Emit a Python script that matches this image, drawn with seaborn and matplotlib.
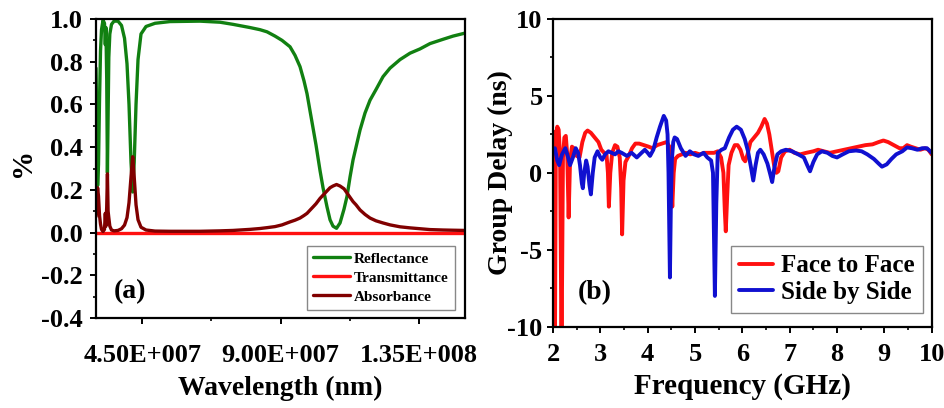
import matplotlib
matplotlib.use("Agg")
import matplotlib.pyplot as plt
import numpy as np
import pandas as pd
import seaborn as sns
from matplotlib.ticker import AutoMinorLocator, FixedLocator

sns.set_theme(style="ticks")
plt.rcParams["font.family"] = ["Liberation Serif", "DejaVu Serif"]
plt.rcParams["font.weight"] = "bold"
plt.rcParams["axes.unicode_minus"] = False
for key in ("axes.edgecolor", "xtick.color", "ytick.color", "text.color", "axes.labelcolor"):
    plt.rcParams[key] = "black"

# ---------------- panel (a): spectral response ----------------
wavelength_nm = [
    3.000e7, 3.026e7, 3.052e7, 3.081e7, 3.114e7, 3.146e7, 3.179e7, 3.228e7,
    3.276e7, 3.302e7, 3.322e7, 3.348e7, 3.371e7, 3.393e7, 3.416e7, 3.449e7,
    3.504e7, 3.585e7, 3.715e7, 3.829e7, 3.927e7, 4.008e7, 4.073e7, 4.138e7,
    4.193e7, 4.242e7, 4.301e7, 4.366e7, 4.463e7, 4.626e7, 4.919e7, 5.406e7,
    6.382e7, 7.032e7, 7.455e7, 8.008e7, 8.333e7, 8.561e7, 8.821e7, 9.049e7,
    9.309e7, 9.471e7, 9.634e7, 9.764e7, 9.862e7, 9.959e7, 1.0057e8, 1.0154e8,
    1.0285e8, 1.0382e8, 1.0512e8, 1.0610e8, 1.0707e8, 1.0821e8, 1.0935e8,
    1.1065e8, 1.1163e8, 1.1260e8, 1.1358e8, 1.1455e8, 1.1585e8, 1.1748e8,
    1.1911e8, 1.2106e8, 1.2333e8, 1.2561e8, 1.2886e8, 1.3211e8, 1.3536e8,
    1.3862e8, 1.4284e8, 1.4610e8, 1.5000e8,
]
reflectance = [
    0.77, 0.50, 0.22, 0.32, 0.62, 0.85, 0.95, 0.995,
    0.98, 0.88, 0.96, 0.72, 0.28, 0.55, 0.82, 0.93,
    0.975, 0.99, 0.99, 0.97, 0.91, 0.79, 0.60, 0.33,
    0.19, 0.33, 0.60, 0.81, 0.93, 0.965, 0.98, 0.988,
    0.99, 0.985, 0.975, 0.96, 0.95, 0.94, 0.92, 0.90,
    0.87, 0.83, 0.777, 0.71, 0.65, 0.57, 0.49, 0.41,
    0.29, 0.21, 0.12, 0.06, 0.03, 0.02, 0.045,
    0.11, 0.17, 0.26, 0.34, 0.40, 0.48, 0.56,
    0.62, 0.67, 0.73, 0.77, 0.81, 0.84, 0.86,
    0.885, 0.905, 0.92, 0.934,
]
transmittance = [0.0] * len(wavelength_nm)
absorbance = [
    0.075, 0.15, 0.21, 0.17, 0.08, 0.04, 0.015, 0.005,
    0.015, 0.09, 0.03, 0.12, 0.275, 0.10, 0.07, 0.03,
    0.012, 0.008, 0.01, 0.018, 0.035, 0.07, 0.14, 0.26,
    0.355, 0.26, 0.13, 0.06, 0.025, 0.012, 0.007, 0.006,
    0.006, 0.008, 0.01, 0.015, 0.019, 0.023, 0.028, 0.036,
    0.05, 0.058, 0.068, 0.08, 0.09, 0.105, 0.12, 0.135,
    0.16, 0.175, 0.195, 0.21, 0.218, 0.225, 0.218,
    0.205, 0.185, 0.165, 0.145, 0.13, 0.106, 0.085,
    0.068, 0.055, 0.045, 0.036, 0.027, 0.022, 0.018,
    0.014, 0.012, 0.011, 0.01,
]
series_a = ["Reflectance", "Transmittance", "Absorbance"]
colors_a = {"Reflectance": "#118011", "Transmittance": "#ff1010", "Absorbance": "#800000"}
wl_ticks = [4.5e7, 9.0e7, 1.35e8]
wl_tick_labels = ["4.50E+007", "9.00E+007", "1.35E+008"]
pct_ticks = [-0.4, -0.2, 0.0, 0.2, 0.4, 0.6, 0.8, 1.0]
pct_tick_labels = ["-0.4", "-0.2", "0.0", "0.2", "0.4", "0.6", "0.8", "1.0"]

# ---------------- panel (b): group delay ----------------
ftf_freq = [
    2.00, 2.02, 2.04, 2.06, 2.09, 2.12, 2.15, 2.18, 2.21, 2.24, 2.27, 2.30,
    2.33, 2.36, 2.40, 2.44, 2.50, 2.56, 2.62, 2.68, 2.73, 2.80, 2.88, 2.96,
    3.02, 3.08, 3.13, 3.16, 3.18, 3.21, 3.25, 3.31, 3.36, 3.41, 3.44, 3.46,
    3.49, 3.53, 3.60, 3.67, 3.74, 3.82, 3.92, 4.02, 4.10, 4.20, 4.30, 4.40,
    4.46, 4.49, 4.52, 4.55, 4.58, 4.64, 4.72, 4.80, 4.90, 5.00, 5.10, 5.20,
    5.30, 5.40, 5.48, 5.55, 5.60, 5.63, 5.65, 5.68, 5.71, 5.77, 5.84, 5.90,
    5.96, 6.02, 6.06, 6.11, 6.17, 6.25, 6.33, 6.40, 6.47, 6.52, 6.57, 6.62,
    6.67, 6.72, 6.76, 6.82, 6.90, 7.00, 7.10, 7.22, 7.35, 7.50, 7.60, 7.72,
    7.85, 8.00, 8.15, 8.30, 8.45, 8.60, 8.75, 8.88, 8.98, 9.08, 9.20, 9.32,
    9.40, 9.48, 9.56, 9.66, 9.76, 9.86, 9.93, 10.0,
]
ftf_delay = [
    2.7, 1.5, -12.0, 2.4, 3.0, 2.8, 1.0, -12.0, 1.0, 2.3, 2.4, 1.2,
    -2.9, 0.8, 1.7, 1.6, 1.1, 1.0, 2.0, 2.6, 2.75, 2.6, 2.3, 2.0,
    1.5, 1.3, 1.2, 0.0, -2.2, 0.0, 1.3, 1.8, 1.7, 1.0, -1.0, -4.0,
    -0.5, 0.7, 1.1, 1.6, 1.9, 1.9, 1.8, 1.7, 1.6, 1.8, 1.9, 2.0,
    1.7, 0.0, -2.2, 0.0, 0.9, 1.1, 1.2, 1.3, 1.2, 1.3, 1.2, 1.3,
    1.3, 1.3, 1.4, 1.0, 0.0, -2.5, -3.8, -1.5, 0.5, 1.3, 1.8, 1.8,
    1.5, 0.9, 0.75, 1.2, 2.0, 2.3, 2.6, 3.0, 3.5, 3.2, 2.5, 1.5,
    0.5, 0.0, 0.1, 1.0, 1.4, 1.5, 1.3, 1.2, 1.3, 1.4, 1.5, 1.4,
    1.3, 1.4, 1.5, 1.6, 1.7, 1.8, 1.85, 2.0, 2.1, 2.0, 1.8, 1.6,
    1.6, 1.8, 1.7, 1.6, 1.5, 1.6, 1.5, 1.2,
]
sbs_freq = [
    2.00, 2.04, 2.09, 2.13, 2.19, 2.26, 2.31, 2.36, 2.42, 2.48, 2.53, 2.57,
    2.61, 2.63, 2.66, 2.70, 2.73, 2.77, 2.80, 2.84, 2.88, 2.94, 3.00, 3.04,
    3.10, 3.17, 3.24, 3.31, 3.38, 3.45, 3.56, 3.66, 3.77, 3.87, 3.94, 4.00,
    4.05, 4.12, 4.19, 4.26, 4.34, 4.39, 4.42, 4.44, 4.47, 4.49, 4.51, 4.54,
    4.57, 4.62, 4.70, 4.80, 4.89, 4.98, 5.07, 5.18, 5.26, 5.34, 5.38, 5.42,
    5.45, 5.48, 5.56, 5.63, 5.72, 5.80, 5.88, 5.97, 6.05, 6.12, 6.18, 6.23,
    6.28, 6.33, 6.38, 6.45, 6.53, 6.59, 6.63, 6.68, 6.74, 6.82, 6.92, 7.05,
    7.18, 7.30, 7.37, 7.43, 7.50, 7.58, 7.68, 7.80, 7.90, 8.00, 8.12, 8.25,
    8.40, 8.52, 8.64, 8.78, 8.88, 8.95, 9.05, 9.15, 9.25, 9.38, 9.48, 9.58,
    9.70, 9.80, 9.90, 10.0,
]
sbs_delay = [
    1.5, 1.6, 0.8, 0.5, 1.2, 1.6, 1.1, 0.5, 1.0, 1.6, 1.3, 0.5,
    -0.7, -1.0, 0.0, 0.8, 0.4, -0.8, -1.4, 0.0, 1.0, 1.4, 1.0, 0.85,
    1.2, 1.4, 1.3, 1.2, 1.4, 1.3, 1.1, 1.3, 1.0, 1.3, 1.5, 1.3,
    1.1, 1.5, 2.3, 3.0, 3.7, 3.4, 2.5, 0.0, -6.8, -2.0, 0.8, 2.0,
    2.3, 2.2, 1.6, 1.1, 1.4, 1.2, 1.1, 1.3, 1.0, 0.8, 0.0, -8.0,
    -2.0, 1.3, 1.5, 1.6, 2.3, 2.8, 3.0, 2.8, 2.2, 1.4, 0.4, -0.5,
    0.5, 1.3, 1.5, 1.2, 0.6, -0.1, -0.6, 0.4, 1.2, 1.4, 1.5, 1.4,
    1.2, 1.0, 0.5, 0.1, 0.7, 1.2, 1.4, 1.3, 1.1, 1.0, 1.2, 1.4,
    1.45, 1.4, 1.2, 0.9, 0.6, 0.4, 0.55, 0.9, 1.2, 1.4, 1.65, 1.6,
    1.5, 1.6, 1.6, 1.3,
]
series_b = ["Face to Face", "Side by Side"]
colors_b = {"Face to Face": "#ff1010", "Side by Side": "#1010d0"}
freq_ticks = [2, 3, 4, 5, 6, 7, 8, 9, 10]
delay_ticks = [-10, -5, 0, 5, 10]

# ---------------- tables ----------------
df_a = pd.concat([
    pd.DataFrame({"wavelength": wavelength_nm, "value": vals, "series": name})
    for name, vals in zip(series_a, [reflectance, transmittance, absorbance])
], ignore_index=True)
df_b = pd.concat([
    pd.DataFrame({"freq": ftf_freq, "delay": ftf_delay, "config": series_b[0]}),
    pd.DataFrame({"freq": sbs_freq, "delay": sbs_delay, "config": series_b[1]}),
], ignore_index=True)

fig = plt.figure(figsize=(9.45, 4.08), dpi=100)
ax_a = fig.add_axes([0.1016, 0.2206, 0.3905, 0.7328])
ax_b = fig.add_axes([0.5852, 0.1993, 0.4007, 0.7542])

sns.lineplot(data=df_a, x="wavelength", y="value", hue="series", hue_order=series_a,
             palette=colors_a, estimator=None, sort=False, lw=2.4, ax=ax_a, legend=False)
sns.lineplot(data=df_b, x="freq", y="delay", hue="config", hue_order=series_b,
             palette=colors_b, estimator=None, sort=False, lw=2.8, ax=ax_b, legend=False)
for ln in ax_a.lines + ax_b.lines:
    ln.set_solid_joinstyle("round")

# ---- axes (a)
ax_a.set_xlim(3.0e7, 1.5e8)
ax_a.set_ylim(-0.4, 1.0)
ax_a.xaxis.set_major_locator(FixedLocator(wl_ticks))
ax_a.set_xticklabels(wl_tick_labels, fontsize=19, fontweight="bold")
ax_a.yaxis.set_major_locator(FixedLocator(pct_ticks))
ax_a.set_yticklabels(pct_tick_labels, fontsize=19, fontweight="bold")
ax_a.tick_params(axis="x", which="major", pad=14)
ax_a.tick_params(axis="y", which="major", pad=5)
ax_a.set_xlabel("Wavelength (nm)", fontsize=20, fontweight="bold", va="center")
ax_a.set_ylabel("%", fontsize=21, fontweight="bold", va="center")
ax_a.xaxis.set_label_coords(0.5, -0.234)
ax_a.yaxis.set_label_coords(-0.2, 0.52)
ax_a.text(0.092, 0.087, "(a)", transform=ax_a.transAxes, ha="center", va="center",
          fontsize=20, fontweight="bold")
leg_a = ax_a.legend(ax_a.lines[:3], series_a, loc="lower right",
                    bbox_to_anchor=(0.973, 0.027), borderaxespad=0,
                    prop={"weight": "bold", "size": 11}, handlelength=2.4,
                    handletextpad=0.3, labelspacing=0.35, borderpad=0.4,
                    fancybox=False, framealpha=1, edgecolor="#888888")
leg_a.get_frame().set_linewidth(1.0)

# ---- axes (b)
ax_b.set_xlim(2, 10)
ax_b.set_ylim(-10, 10)
ax_b.xaxis.set_major_locator(FixedLocator(freq_ticks))
ax_b.set_xticklabels([str(t) for t in freq_ticks], fontsize=19, fontweight="bold")
ax_b.yaxis.set_major_locator(FixedLocator(delay_ticks))
ax_b.set_yticklabels([str(t) for t in delay_ticks], fontsize=19, fontweight="bold")
ax_b.tick_params(axis="x", which="major", pad=7)
ax_b.tick_params(axis="y", which="major", pad=3)
ax_b.set_xlabel("Frequency (GHz)", fontsize=21, fontweight="bold", va="center")
ax_b.set_ylabel("Group Delay (ns)", fontsize=20, fontweight="bold", va="center")
ax_b.xaxis.set_label_coords(0.5, -0.196)
ax_b.yaxis.set_label_coords(-0.14, 0.5)
ax_b.text(0.11, 0.11, "(b)", transform=ax_b.transAxes, ha="center", va="center",
          fontsize=20, fontweight="bold")
leg_b = ax_b.legend(ax_b.lines[:2], series_b, loc="lower right",
                    bbox_to_anchor=(0.977, 0.0445), borderaxespad=0,
                    prop={"weight": "bold", "size": 18}, handlelength=1.35,
                    handletextpad=0.3, labelspacing=0.15, borderpad=0.35,
                    fancybox=False, framealpha=1, edgecolor="#888888")
leg_b.get_frame().set_linewidth(1.0)

for ax in (ax_a, ax_b):
    ax.xaxis.set_minor_locator(AutoMinorLocator(2))
    ax.yaxis.set_minor_locator(AutoMinorLocator(2))
    ax.tick_params(which="major", direction="out", length=4.5, width=1.4,
                   top=False, right=False, colors="black")
    ax.tick_params(which="minor", direction="out", length=2.5, width=1.2,
                   top=False, right=False, colors="black")
    for sp in ax.spines.values():
        sp.set_visible(True)
        sp.set_linewidth(1.6)
        sp.set_color("black")
    ax.set_facecolor("white")

fig.savefig("out.png", dpi=100, facecolor="white")
